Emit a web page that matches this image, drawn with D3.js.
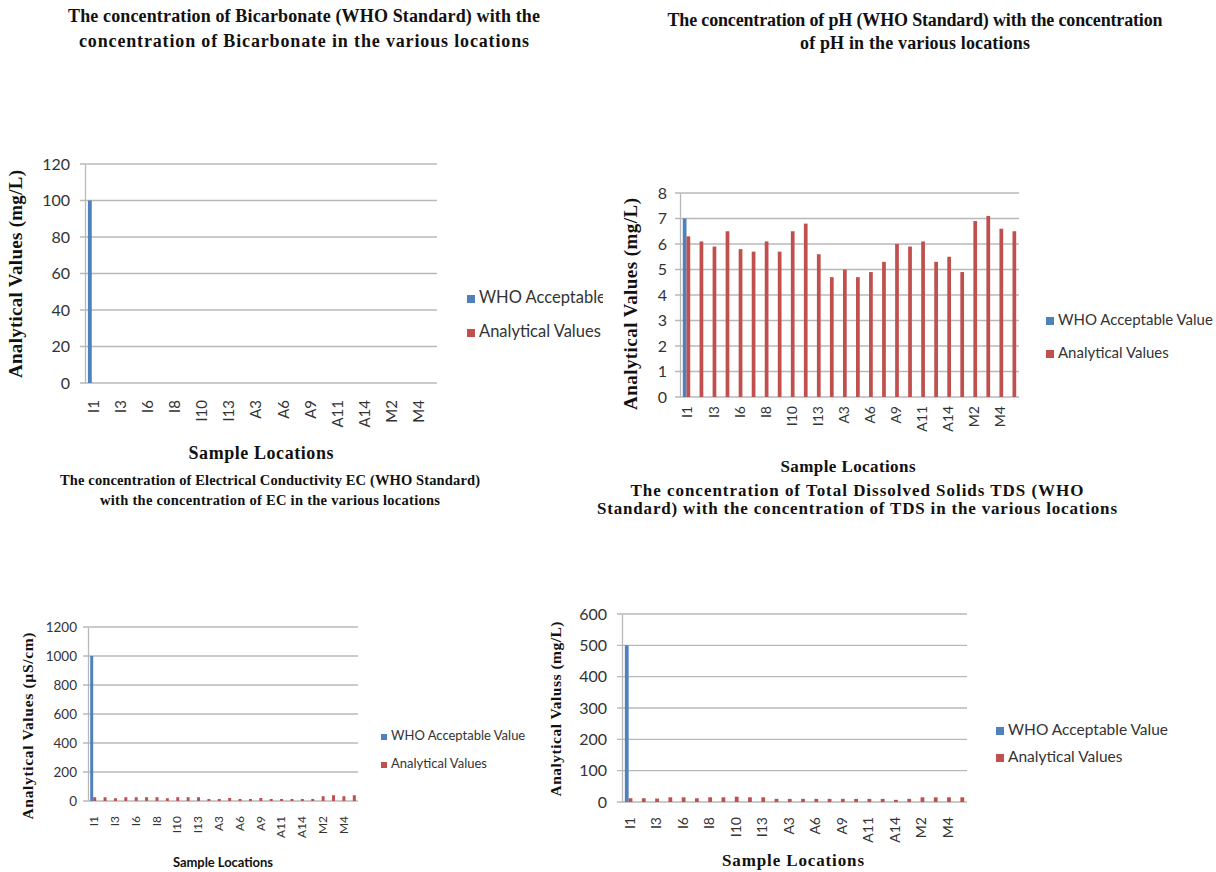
<!DOCTYPE html>
<html>
<head>
<meta charset="utf-8">
<script src="https://cdn.jsdelivr.net/npm/d3@7/dist/d3.min.js"></script>
<style>
  html, body { margin: 0; padding: 0; background: #ffffff; }
  svg { display: block; }
</style>
</head>
<body>
<svg id="chart" width="1216" height="872"></svg>
<script>
// Sample locations (every other one is labelled on the axis)
const locations = ["I1","I2","I3","I5","I6","I7","I8","I9","I10","I12","I13",
                   "A1","A3","A5","A6","A8","A9","A10","A11","A13","A14",
                   "M1","M2","M3","M4","M5"];

const seriesNames = ["WHO Acceptable Value", "Analytical Values"];

// WHO standard (given once, at the first location)
const whoBicarbonate = [100];
const whoPH = [7];
const whoEC = [1000];
const whoTDS = [500];

// Measured values per location
const bicarbonateValues = [0,0,0,0,0,0,0,0,0,0,0,0,0,0,0,0,0,0,0,0,0,0,0,0,0,0];
const phValues = [6.3,6.1,5.9,6.5,5.8,5.7,6.1,5.7,6.5,6.8,5.6,4.7,5.0,4.7,4.9,5.3,
                  6.0,5.9,6.1,5.3,5.5,4.9,6.9,7.1,6.6,6.5];
const ecValues = [26,26,19,26,26,26,26,19,26,26,26,14,14,21,14,14,21,14,14,14,14,14,
                  33,40,33,40];
const tdsValues = [12,12,11,15,15,12,15,15,17,15,15,10,10,10,10,10,10,10,10,10,7,10,
                   15,15,15,15];

// Y-axis tick values
const bicarbonateTicks = [0,20,40,60,80,100,120];
const phTicks = [0,1,2,3,4,5,6,7,8];
const ecTicks = [0,200,400,600,800,1000,1200];
const tdsTicks = [0,100,200,300,400,500,600];

const BLUE = "#4f81bd";
const RED = "#c0504d";
const SERIF = "'Liberation Serif', 'DejaVu Serif', serif";
const SANS = "Lato, 'Liberation Sans', sans-serif";

const svg = d3.select("#chart");

// Bold text that is spread out to a set line length
function boldText(g, x, y, txt, font, size, len, rotate) {
  const t = g.append("text")
    .attr("text-anchor", "middle").attr("dominant-baseline", "middle")
    .style("font-family", font).style("font-weight", "bold")
    .style("font-size", size + "px").attr("fill", "#111")
    .text(txt);
  if (rotate) t.attr("transform", `translate(${x},${y}) rotate(-90)`);
  else t.attr("x", x).attr("y", y);
  if (len) t.attr("textLength", len).attr("lengthAdjust", "spacing");
  return t;
}

function drawPanel(p) {
  const g = svg.append("g");

  // Title
  p.title.forEach((line, i) => {
    boldText(g, p.titleX, p.titleY[i], line, SERIF, p.titleSize, p.titleLen[i]);
  });

  const x = d3.scaleBand().domain(locations).range([p.left, p.right]).paddingInner(0).paddingOuter(0);
  const y = d3.scaleLinear().domain([0, d3.max(p.ticks)]).range([p.bottom, p.top]);

  const bw = x.bandwidth() / 3.5;

  // Gridlines
  g.append("g").selectAll("line").data(p.ticks).join("line")
    .attr("x1", p.left - 5).attr("x2", p.right)
    .attr("y1", d => y(d)).attr("y2", d => y(d))
    .attr("stroke", "#b8b8b8").attr("stroke-width", 1.3);

  // Y axis
  const yAxis = d3.axisLeft(y).tickValues(p.ticks).tickFormat(d3.format("d"))
    .tickSize(0).tickPadding(p.tickPad);
  const ya = g.append("g").attr("transform", `translate(${p.left},0)`).call(yAxis);
  ya.select(".domain").attr("stroke", "#b8b8b8").attr("stroke-width", 1.3);
  ya.selectAll("text").style("font-family", SANS).style("font-size", p.tickSize + "px").attr("fill", "#333");

  // X axis labels (every other location)
  const xAxis = d3.axisBottom(x).tickSize(0).tickFormat((d, i) => i % 2 === 0 ? d : "");
  const xa = g.append("g").attr("transform", `translate(${p.xShift},${p.bottom})`).call(xAxis);
  xa.select(".domain").remove();
  xa.selectAll("text")
    .attr("transform", "rotate(-90)")
    .attr("x", -p.xLabelOffset).attr("y", 0).attr("dy", "0.35em")
    .attr("text-anchor", "end")
    .style("font-family", SANS).style("font-size", p.xTickSize + "px").attr("fill", "#333");

  // WHO bars
  g.append("g").selectAll("rect").data(p.who).join("rect")
    .attr("x", (d, i) => x(locations[i]) + x.bandwidth() / 2 - bw)
    .attr("width", bw)
    .attr("y", d => y(d)).attr("height", d => y(0) - y(d))
    .attr("fill", BLUE);

  // Analytical bars
  g.append("g").selectAll("rect").data(p.values).join("rect")
    .attr("x", (d, i) => x(locations[i]) + x.bandwidth() / 2)
    .attr("width", bw)
    .attr("y", d => y(d)).attr("height", d => y(0) - y(d))
    .attr("fill", RED);

  // Axis titles
  boldText(g, p.yTitleX, p.yTitleY, p.yTitle, SERIF, p.yTitleSize, p.yTitleLen, true);
  boldText(g, p.xTitleX, p.xTitleY, "Sample Locations", p.xTitleFont, p.xTitleSize, p.xTitleLen);

  // Legend
  const lg = g.append("g");
  if (p.legendClip) {
    const id = "clip" + Math.round(p.legendX);
    svg.append("clipPath").attr("id", id).append("rect")
      .attr("x", p.legendX - 5).attr("y", p.legendY[0] - 20)
      .attr("width", p.legendClip - p.legendX + 5).attr("height", 80);
    lg.attr("clip-path", `url(#${id})`);
  }
  seriesNames.forEach((name, i) => {
    lg.append("rect")
      .attr("x", p.legendX).attr("y", p.legendY[i] - p.legendSq / 2)
      .attr("width", p.legendSq).attr("height", p.legendSq)
      .attr("fill", i === 0 ? BLUE : RED);
    lg.append("text")
      .attr("x", p.legendX + p.legendSq + 4).attr("y", p.legendY[i])
      .attr("dominant-baseline", "middle")
      .style("font-family", SANS).style("font-size", p.legendSize + "px").attr("fill", "#333")
      .text(name);
  });
}

drawPanel({
  title: ["The concentration of Bicarbonate (WHO Standard) with the",
          "concentration of Bicarbonate in the various locations"],
  titleX: 304, titleY: [18, 43], titleSize: 18, titleLen: [472, 450],
  left: 85, right: 437, top: 164, bottom: 383,
  ticks: bicarbonateTicks, who: whoBicarbonate, values: bicarbonateValues,
  tickSize: 16, tickPad: 15, xTickSize: 15, xLabelOffset: 17, xShift: 2,
  yTitle: "Analytical Values (mg/L)", yTitleX: 18, yTitleY: 274, yTitleSize: 19, yTitleLen: 208,
  xTitleX: 261, xTitleY: 455, xTitleSize: 18, xTitleLen: 145, xTitleFont: SERIF,
  legendX: 467, legendY: [299, 333], legendSq: 8, legendSize: 16.5, legendClip: 603
});

drawPanel({
  title: ["The concentration of pH (WHO Standard) with the concentration",
          "of pH in the various locations"],
  titleX: 915, titleY: [22, 45], titleSize: 18, titleLen: [495, 230],
  left: 680, right: 1019, top: 193, bottom: 397,
  ticks: phTicks, who: whoPH, values: phValues,
  tickSize: 16, tickPad: 13, xTickSize: 14, xLabelOffset: 9, xShift: 1,
  yTitle: "Analytical Values (mg/L)", yTitleX: 633, yTitleY: 304, yTitleSize: 19, yTitleLen: 212,
  xTitleX: 848, xTitleY: 468, xTitleSize: 17, xTitleLen: 135, xTitleFont: SERIF,
  legendX: 1046, legendY: [321, 354], legendSq: 8, legendSize: 15
});

drawPanel({
  title: ["The concentration of Electrical Conductivity EC (WHO Standard)",
          "with the concentration of EC in the various locations"],
  titleX: 270, titleY: [482, 502], titleSize: 14.5, titleLen: [420, 340],
  left: 88, right: 358, top: 627, bottom: 801,
  ticks: ecTicks, who: whoEC, values: ecValues,
  tickSize: 13.5, tickPad: 11, xTickSize: 12, xLabelOffset: 15, xShift: 1,
  yTitle: "Analytical Values (\u00b5S/cm)", yTitleX: 29, yTitleY: 726, yTitleSize: 15.5, yTitleLen: 187,
  xTitleX: 223, xTitleY: 864, xTitleSize: 13, xTitleLen: 100, xTitleFont: SANS,
  legendX: 381, legendY: [737, 765], legendSq: 6, legendSize: 13
});

drawPanel({
  title: ["The concentration of Total Dissolved Solids TDS (WHO",
          "Standard) with the concentration of TDS in the various locations"],
  titleX: 857, titleY: [492, 510], titleSize: 17, titleLen: [453, 520],
  left: 622, right: 967, top: 614, bottom: 802,
  ticks: tdsTicks, who: whoTDS, values: tdsValues,
  tickSize: 16, tickPad: 15, xTickSize: 14, xLabelOffset: 15, xShift: 1,
  yTitle: "Analytical Valuss (mg/L)", yTitleX: 557, yTitleY: 709, yTitleSize: 15.5, yTitleLen: 175,
  xTitleX: 793, xTitleY: 862, xTitleSize: 17, xTitleLen: 142, xTitleFont: SERIF,
  legendX: 996, legendY: [731, 758], legendSq: 8, legendSize: 15.5
});
</script>
</body>
</html>
